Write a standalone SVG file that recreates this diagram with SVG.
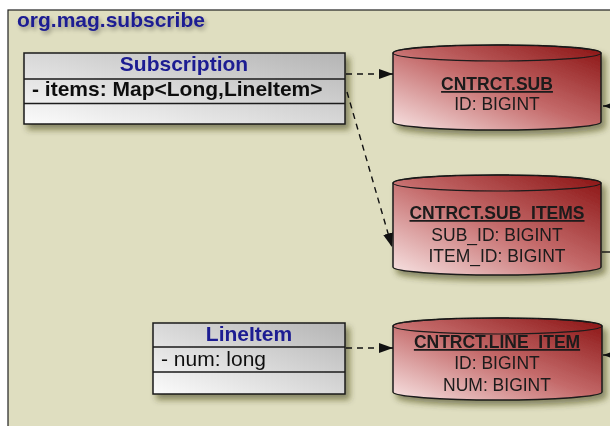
<svg xmlns="http://www.w3.org/2000/svg" width="610" height="426" viewBox="0 0 610 426">
<defs>
<linearGradient id="gClass" x1="0" y1="1" x2="1" y2="0">
<stop offset="0" stop-color="#fbfbfb"/>
<stop offset="1" stop-color="#b4b4b4"/>
</linearGradient>
<linearGradient id="gDb" x1="0" y1="1" x2="1" y2="0">
<stop offset="0" stop-color="#f8e4e4"/>
<stop offset="0.5" stop-color="#c46a6a"/>
<stop offset="1" stop-color="#8a1212"/>
</linearGradient>
<filter id="sh" x="-10%" y="-20%" width="130%" height="150%">
<feGaussianBlur in="SourceAlpha" stdDeviation="3"/>
<feOffset dx="4" dy="5" result="b"/>
<feComponentTransfer in="b" result="c"><feFuncA type="linear" slope="0.55"/></feComponentTransfer>
<feFlood flood-color="#3c3c10"/>
<feComposite in2="c" operator="in"/>
<feMerge><feMergeNode/><feMergeNode in="SourceGraphic"/></feMerge>
</filter>
<filter id="tsh" x="-10%" y="-30%" width="130%" height="180%">
<feGaussianBlur in="SourceAlpha" stdDeviation="2"/>
<feOffset dx="2" dy="3" result="b"/>
<feComponentTransfer in="b" result="c"><feFuncA type="linear" slope="0.35"/></feComponentTransfer>
<feMerge><feMergeNode in="c"/><feMergeNode in="SourceGraphic"/></feMerge>
</filter>
<marker id="arr" markerWidth="14" markerHeight="10" refX="14" refY="5" orient="auto" markerUnits="userSpaceOnUse">
<path d="M0,0 L14,5 L0,10 Z" fill="#111"/>
</marker>
</defs>
<style>
.frame{fill:#dfdec0;stroke:#222;stroke-width:1.2}
.box{fill:url(#gClass);stroke:#1a1a1a;stroke-width:1.5}
.sep{stroke:#1a1a1a;stroke-width:1.5}
.db{fill:url(#gDb);stroke:#1a1a1a;stroke-width:1.5}
.dbtop{fill:none;stroke:#1a1a1a;stroke-width:1.2}
.ttl{font-family:"Liberation Sans",Arial,sans-serif;font-weight:bold;font-size:21px;fill:#1c1c92}
.attr{font-family:"Liberation Sans",Arial,sans-serif;font-size:21px;fill:#111}
.dbt{font-family:"Liberation Sans",Arial,sans-serif;font-size:17.5px;fill:#1a1a1a;text-anchor:middle}
.dbh{font-weight:bold;text-decoration:underline}
.conn{fill:none;stroke:#111;stroke-width:1.4;stroke-dasharray:6,5}
.stub{fill:none;stroke:#111;stroke-width:1.4}
</style>
<rect x="0" y="0" width="610" height="426" fill="#ffffff"/>
<g id="package">
<rect class="frame" x="8" y="10" width="612" height="430"/>
<text class="ttl" x="17" y="27" filter="url(#tsh)" font-size="20">org.mag.subscribe</text>
</g>
<g id="Subscription" filter="url(#sh)">
<rect class="box" x="24" y="53" width="321" height="71"/>
<line class="sep" x1="24" y1="79" x2="345" y2="79"/>
<line class="sep" x1="24" y1="103.5" x2="345" y2="103.5"/>
<text class="ttl" x="184" y="71" text-anchor="middle">Subscription</text>
<text class="attr" x="32" y="96" font-weight="bold">- items: Map&lt;Long,LineItem&gt;</text>
</g>
<g id="LineItem" filter="url(#sh)">
<rect class="box" x="153" y="323" width="192" height="71"/>
<line class="sep" x1="153" y1="347" x2="345" y2="347"/>
<line class="sep" x1="153" y1="372" x2="345" y2="372"/>
<text class="ttl" x="249" y="341" text-anchor="middle">LineItem</text>
<text class="attr" x="161" y="366">- num: long</text>
</g>
<g id="CNTRCT.SUB" filter="url(#sh)">
<path class="db" d="M393,53 A104,8 0 0 1 601,53 V122 A104,8 0 0 1 393,122 Z"/>
<ellipse class="dbtop" cx="497" cy="53" rx="104" ry="8"/>
<text class="dbt dbh" x="497" y="90">CNTRCT.SUB</text>
<text class="dbt" x="497" y="110">ID: BIGINT</text>
</g>
<g id="CNTRCT.SUB_ITEMS" filter="url(#sh)">
<path class="db" d="M393,183 A104,8 0 0 1 601,183 V267 A104,8 0 0 1 393,267 Z"/>
<ellipse class="dbtop" cx="497" cy="183" rx="104" ry="8"/>
<text class="dbt dbh" x="497" y="219">CNTRCT.SUB_ITEMS</text>
<text class="dbt" x="497" y="241">SUB_ID: BIGINT</text>
<text class="dbt" x="497" y="262">ITEM_ID: BIGINT</text>
</g>
<g id="CNTRCT.LINE_ITEM" filter="url(#sh)">
<path class="db" d="M393,326 A104.5,8 0 0 1 602,326 V392 A104.5,8 0 0 1 393,392 Z"/>
<ellipse class="dbtop" cx="497.5" cy="326" rx="104.5" ry="8"/>
<text class="dbt dbh" x="497" y="348">CNTRCT.LINE_ITEM</text>
<text class="dbt" x="497" y="369">ID: BIGINT</text>
<text class="dbt" x="497" y="391">NUM: BIGINT</text>
</g>
<g id="connectors">
<line class="conn" x1="346" y1="74" x2="393" y2="74" marker-end="url(#arr)"/>
<line class="conn" x1="347" y1="92" x2="392" y2="247" marker-end="url(#arr)"/>
<line class="conn" x1="346" y1="348" x2="393" y2="348" marker-end="url(#arr)"/>
<line class="stub" x1="620" y1="106" x2="603" y2="106" marker-end="url(#arr)"/>
<line class="stub" x1="610" y1="252" x2="602" y2="252"/>
<line class="stub" x1="620" y1="355" x2="603" y2="355" marker-end="url(#arr)"/>
</g>
</svg>
